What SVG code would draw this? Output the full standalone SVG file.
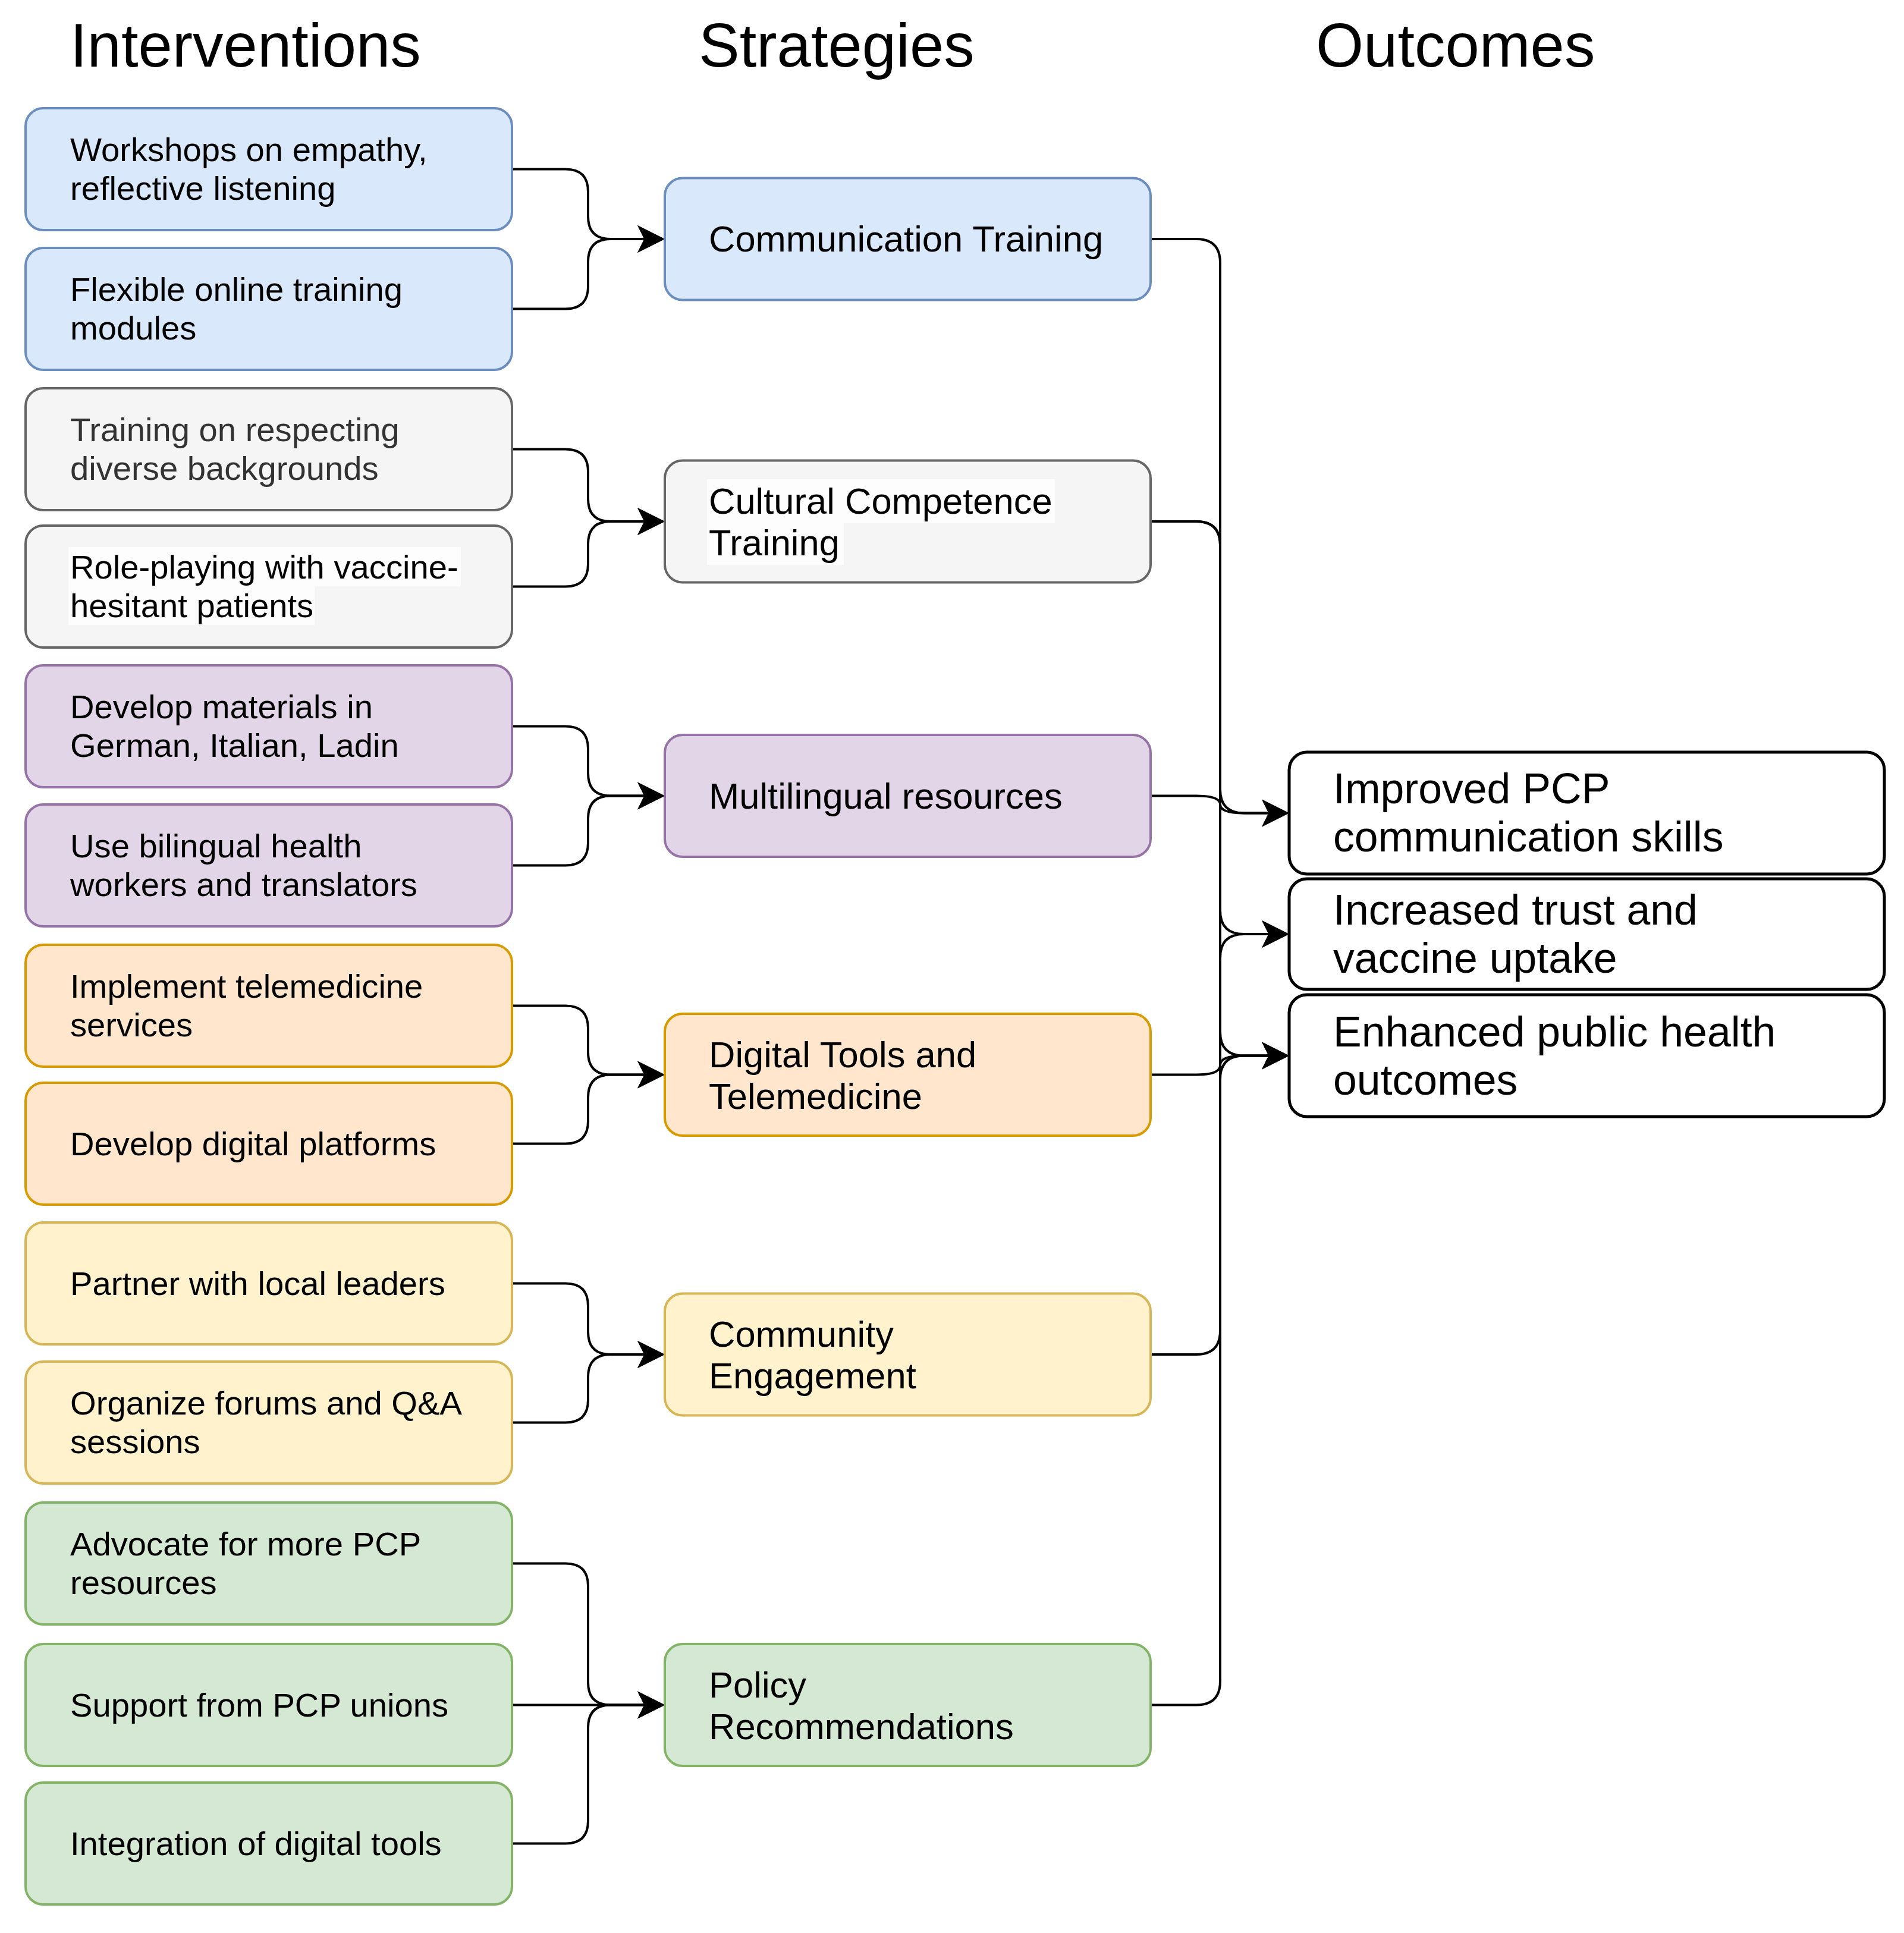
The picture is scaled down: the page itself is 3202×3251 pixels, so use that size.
<svg xmlns="http://www.w3.org/2000/svg" width="3202" height="3251" viewBox="0 0 3202 3251">
<style>
text{font-family:"Liberation Sans",Arial,Helvetica,sans-serif;fill:#000}
.hd{font-size:103px}
.it{font-size:56.2px}
.st{font-size:61.5px}
.ot{font-size:71.6px}
.box{stroke-width:4}
.blue{fill:#dae8fc;stroke:#6c8ebf}
.gray{fill:#f5f5f5;stroke:#666666}
.purple{fill:#e1d5e7;stroke:#9673a6}
.orange{fill:#ffe6cc;stroke:#d79b00}
.yellow{fill:#fff2cc;stroke:#d6b656}
.green{fill:#d5e8d4;stroke:#82b366}
.out{fill:#ffffff;stroke:#000000;stroke-width:5}
.lbg{fill:#fdfdfd}
.edge{fill:none;stroke:#000;stroke-width:4;marker-end:url(#arr)}
</style>
<defs>
<marker id="arr" markerUnits="userSpaceOnUse" viewBox="-20 -25 55 50" markerWidth="55" markerHeight="50" refX="0" refY="0" orient="auto">
<path d="M30,0 L-16,-23 L-4.5,0 L-16,23 Z" fill="#000"/>
</marker>
</defs>
<rect x="0" y="0" width="3202" height="3251" fill="#ffffff"/>
<g id="headers">
<text class="hd" x="118" y="112">Interventions</text>
<text class="hd" x="1175" y="112">Strategies</text>
<text class="hd" x="2213" y="112">Outcomes</text>
</g>
<g id="connectors">
<path class="edge" d="M863 284.5 L951 284.5 Q989 284.5 989 322.5 L989 364 Q989 402 1027 402 L1088 402"/>
<path class="edge" d="M863 519.5 L951 519.5 Q989 519.5 989 481.5 L989 440 Q989 402 1027 402 L1088 402"/>
<path class="edge" d="M863 755.5 L951 755.5 Q989 755.5 989 793.5 L989 839 Q989 877 1027 877 L1088 877"/>
<path class="edge" d="M863 986.5 L951 986.5 Q989 986.5 989 948.5 L989 915 Q989 877 1027 877 L1088 877"/>
<path class="edge" d="M863 1221.5 L951 1221.5 Q989 1221.5 989 1259.5 L989 1300.5 Q989 1338.5 1027 1338.5 L1088 1338.5"/>
<path class="edge" d="M863 1455.5 L951 1455.5 Q989 1455.5 989 1417.5 L989 1376.5 Q989 1338.5 1027 1338.5 L1088 1338.5"/>
<path class="edge" d="M863 1691.5 L951 1691.5 Q989 1691.5 989 1729.5 L989 1769.5 Q989 1807.5 1027 1807.5 L1088 1807.5"/>
<path class="edge" d="M863 1923.5 L951 1923.5 Q989 1923.5 989 1885.5 L989 1845.5 Q989 1807.5 1027 1807.5 L1088 1807.5"/>
<path class="edge" d="M863 2158.5 L951 2158.5 Q989 2158.5 989 2196.5 L989 2240 Q989 2278 1027 2278 L1088 2278"/>
<path class="edge" d="M863 2392.5 L951 2392.5 Q989 2392.5 989 2354.5 L989 2316 Q989 2278 1027 2278 L1088 2278"/>
<path class="edge" d="M863 2629.5 L951 2629.5 Q989 2629.5 989 2667.5 L989 2829.5 Q989 2867.5 1027 2867.5 L1088 2867.5"/>
<path class="edge" d="M863 2867.5 L1088 2867.5"/>
<path class="edge" d="M863 3100.5 L951 3100.5 Q989 3100.5 989 3062.5 L989 2905.5 Q989 2867.5 1027 2867.5 L1088 2867.5"/>
<path class="edge" d="M1937 402 L2012 402 Q2052 402 2052 442 L2052 1327.5 Q2052 1367.5 2092 1367.5 L2138 1367.5"/>
<path class="edge" d="M1937 877 L2012 877 Q2052 877 2052 917 L2052 1531 Q2052 1571 2092 1571 L2138 1571"/>
<path class="edge" d="M1937 877 L2012 877 Q2052 877 2052 917 L2052 1735.5 Q2052 1775.5 2092 1775.5 L2138 1775.5"/>
<path class="edge" d="M1937 1338.5 L2012 1338.5 Q2052 1338.5 2052 1353 Q2052 1367.5 2092 1367.5 L2138 1367.5"/>
<path class="edge" d="M1937 1807.5 L2012 1807.5 Q2052 1807.5 2052 1791.5 Q2052 1775.5 2092 1775.5 L2138 1775.5"/>
<path class="edge" d="M1937 2278 L2012 2278 Q2052 2278 2052 2238 L2052 1611 Q2052 1571 2092 1571 L2138 1571"/>
<path class="edge" d="M1937 2867.5 L2012 2867.5 Q2052 2867.5 2052 2827.5 L2052 1815.5 Q2052 1775.5 2092 1775.5 L2138 1775.5"/>
</g>
<g id="i1"><rect class="box blue" x="43" y="182" width="818" height="205" rx="30"/><text class="it" x="118" y="270.5">Workshops on empathy,</text><text class="it" x="118" y="335.5">reflective listening</text></g>
<g id="i2"><rect class="box blue" x="43" y="417" width="818" height="205" rx="30"/><text class="it" x="118" y="505.5">Flexible online training</text><text class="it" x="118" y="570.5">modules</text></g>
<g id="i3"><rect class="box gray" x="43" y="653" width="818" height="205" rx="30"/><text class="it" x="118" y="741.5" style="fill:#333333">Training on respecting</text><text class="it" x="118" y="806.5" style="fill:#333333">diverse backgrounds</text></g>
<g id="i4"><rect class="box gray" x="43" y="884" width="818" height="205" rx="30"/><rect class="lbg" x="115" y="920" width="660" height="66"/><rect class="lbg" x="115" y="986" width="414" height="65"/><text class="it" x="118" y="972.5">Role-playing with vaccine-</text><text class="it" x="118" y="1037.5">hesitant patients</text></g>
<g id="i5"><rect class="box purple" x="43" y="1119" width="818" height="205" rx="30"/><text class="it" x="118" y="1207.5">Develop materials in</text><text class="it" x="118" y="1272.5">German, Italian, Ladin</text></g>
<g id="i6"><rect class="box purple" x="43" y="1353" width="818" height="205" rx="30"/><text class="it" x="118" y="1441.5">Use bilingual health</text><text class="it" x="118" y="1506.5">workers and translators</text></g>
<g id="i7"><rect class="box orange" x="43" y="1589" width="818" height="205" rx="30"/><text class="it" x="118" y="1677.5">Implement telemedicine</text><text class="it" x="118" y="1742.5">services</text></g>
<g id="i8"><rect class="box orange" x="43" y="1821" width="818" height="205" rx="30"/><text class="it" x="118" y="1942.5">Develop digital platforms</text></g>
<g id="i9"><rect class="box yellow" x="43" y="2056" width="818" height="205" rx="30"/><text class="it" x="118" y="2177.5">Partner with local leaders</text></g>
<g id="i10"><rect class="box yellow" x="43" y="2290" width="818" height="205" rx="30"/><text class="it" x="118" y="2378.5">Organize forums and Q&amp;A</text><text class="it" x="118" y="2443.5">sessions</text></g>
<g id="i11"><rect class="box green" x="43" y="2527" width="818" height="205" rx="30"/><text class="it" x="118" y="2615.5">Advocate for more PCP</text><text class="it" x="118" y="2680.5">resources</text></g>
<g id="i12"><rect class="box green" x="43" y="2765" width="818" height="205" rx="30"/><text class="it" x="118" y="2886.5">Support from PCP unions</text></g>
<g id="i13"><rect class="box green" x="43" y="2998" width="818" height="205" rx="30"/><text class="it" x="118" y="3119.5">Integration of digital tools</text></g>
<g id="s1"><rect class="box blue" x="1118" y="299.5" width="817" height="205" rx="30"/><text class="st" x="1192" y="423">Communication Training</text></g>
<g id="s2"><rect class="box gray" x="1118" y="774.5" width="817" height="205" rx="30"/><rect class="lbg" x="1189" y="806" width="585" height="74"/><rect class="lbg" x="1189" y="880" width="230" height="70"/><text class="st" x="1192" y="864">Cultural Competence</text><text class="st" x="1192" y="934">Training</text></g>
<g id="s3"><rect class="box purple" x="1118" y="1236" width="817" height="205" rx="30"/><text class="st" x="1192" y="1359.5">Multilingual resources</text></g>
<g id="s4"><rect class="box orange" x="1118" y="1705" width="817" height="205" rx="30"/><text class="st" x="1192" y="1794.5">Digital Tools and</text><text class="st" x="1192" y="1864.5">Telemedicine</text></g>
<g id="s5"><rect class="box yellow" x="1118" y="2175.5" width="817" height="205" rx="30"/><text class="st" x="1192" y="2265">Community</text><text class="st" x="1192" y="2335">Engagement</text></g>
<g id="s6"><rect class="box green" x="1118" y="2765" width="817" height="205" rx="30"/><text class="st" x="1192" y="2854.5">Policy</text><text class="st" x="1192" y="2924.5">Recommendations</text></g>
<g id="o1"><rect class="out" x="2168" y="1265" width="1001" height="205" rx="30"/><text class="ot" x="2242" y="1351">Improved PCP</text><text class="ot" x="2242" y="1432">communication skills</text></g>
<g id="o2"><rect class="out" x="2168" y="1478" width="1001" height="186" rx="30"/><text class="ot" x="2242" y="1555">Increased trust and</text><text class="ot" x="2242" y="1636">vaccine uptake</text></g>
<g id="o3"><rect class="out" x="2168" y="1673" width="1001" height="205" rx="30"/><text class="ot" x="2242" y="1760">Enhanced public health</text><text class="ot" x="2242" y="1841">outcomes</text></g>
</svg>
